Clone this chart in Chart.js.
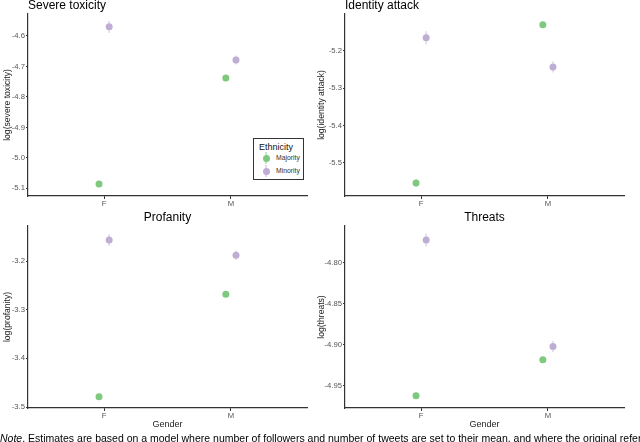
<!DOCTYPE html>
<html>
<head>
<meta charset="utf-8">
<script src="https://cdn.jsdelivr.net/npm/chart.js@4.4.0/dist/chart.umd.min.js"></script>
<style>
  body { margin: 0; background: #fff; }
  #wrap { position: relative; width: 640px; height: 442px; overflow: hidden; background: #fff; font-family: "Liberation Sans", Arial, sans-serif; }
  canvas { position: absolute; }
  .legend { position: absolute; left: 253px; top: 138px; width: 51px; height: 42px; border: 1px solid #333; box-sizing: border-box; background: #fff; }
  .legend .ttl { position: absolute; left: 5px; top: 3px; font-size: 9px; color: #111; }
  .legend .item { position: absolute; left: 6px; font-size: 6.8px; color: #333; height: 12px; }
  .legend .glyph { position: absolute; left: 0; top: 0; width: 12px; height: 12px; }
  .legend .glyph .bar { position: absolute; left: 5px; top: 0; width: 2px; height: 12px; }
  .legend .glyph .dot { position: absolute; left: 2.5px; top: 2.5px; width: 7px; height: 7px; border-radius: 50%; }
  .legend .lbl { position: absolute; left: 16px; top: 2px; white-space: nowrap; }
  .note { position: absolute; left: 0; top: 432px; font-size: 10.5px; line-height: 13px; color: #000; white-space: nowrap; }
</style>
</head>
<body>
<div id="wrap">
  <canvas id="sev" width="312" height="215" style="left:0;top:0"></canvas>
  <canvas id="ida" width="315" height="215" style="left:314px;top:0"></canvas>
  <canvas id="pro" width="312" height="220" style="left:0;top:212px"></canvas>
  <canvas id="thr" width="315" height="220" style="left:314px;top:212px"></canvas>
  <div class="legend">
    <div class="ttl">Ethnicity</div>
    <div class="item" style="top:13px">
      <div class="glyph"><div class="bar" style="background:rgba(127,201,127,0.45)"></div><div class="dot" style="background:#7FC97F"></div></div>
      <div class="lbl">Majority</div>
    </div>
    <div class="item" style="top:26px">
      <div class="glyph"><div class="bar" style="background:rgba(190,174,212,0.45)"></div><div class="dot" style="background:#BEAED4"></div></div>
      <div class="lbl">Minority</div>
    </div>
  </div>
  <div class="note"><i>Note</i>. Estimates are based on a model where number of followers and number of tweets are set to their mean, and where the original reference categories are used.</div>
</div>
<script>
// gender categories on the x axis
const genders = ['F', 'M'];
const ethnicities = ['Majority', 'Minority'];

// severe toxicity
const sevMajority = [-5.086, -4.738];
const sevMinority = [-4.570, -4.679];
const sevMajorityErr = [0.010, 0.008];
const sevMinorityErr = [0.020, 0.015];
const sevTicks = [-5.1, -5.0, -4.9, -4.8, -4.7, -4.6];

// identity attack
const idaMajority = [-5.554, -5.130];
const idaMinority = [-5.165, -5.243];
const idaMajorityErr = [0.010, 0.006];
const idaMinorityErr = [0.018, 0.015];
const idaTicks = [-5.5, -5.4, -5.3, -5.2];

// profanity
const proMajority = [-3.479, -3.268];
const proMinority = [-3.157, -3.188];
const proMajorityErr = [0.005, 0.005];
const proMinorityErr = [0.012, 0.010];
const proTicks = [-3.5, -3.4, -3.3, -3.2];

// threats
const thrMajority = [-4.962, -4.918];
const thrMinority = [-4.772, -4.902];
const thrMajorityErr = [0.004, 0.003];
const thrMinorityErr = [0.008, 0.007];
const thrTicks = [-4.95, -4.90, -4.85, -4.80];

const green = '#7FC97F';
const purple = '#BEAED4';
const dodge = 0.04;
const font = '"Liberation Sans", Arial, sans-serif';

// draws the vertical error bars under the points
const errorBars = {
  id: 'errorBars',
  beforeDatasetsDraw(chart) {
    const { ctx, scales: { x, y } } = chart;
    ctx.save();
    chart.data.datasets.forEach((ds) => {
      ctx.strokeStyle = ds.errColor;
      ctx.lineWidth = 1.6;
      ds.data.forEach((p) => {
        const px = x.getPixelForValue(p.x);
        ctx.beginPath();
        ctx.moveTo(px, y.getPixelForValue(p.y - p.se));
        ctx.lineTo(px, y.getPixelForValue(p.y + p.se));
        ctx.stroke();
      });
    });
    ctx.restore();
  }
};

function points(vals, errs, shift) {
  return vals.map((v, i) => ({ x: i + 1 + shift, y: v, se: errs[i] }));
}

function makeChart(id, cfg) {
  const top = cfg.top;
  new Chart(document.getElementById(id), {
    type: 'scatter',
    data: {
      datasets: [
        {
          label: ethnicities[0],
          data: points(cfg.majority, cfg.majorityErr, -dodge),
          backgroundColor: green,
          errColor: 'rgba(127,201,127,0.45)',
        },
        {
          label: ethnicities[1],
          data: points(cfg.minority, cfg.minorityErr, dodge),
          backgroundColor: purple,
          errColor: 'rgba(190,174,212,0.45)',
        },
      ],
    },
    options: {
      responsive: false,
      animation: false,
      layout: { padding: { left: 2, right: 5, top: 0, bottom: 0 } },
      elements: { point: { radius: 3.5, borderWidth: 0, hoverRadius: 3.5 } },
      plugins: {
        legend: { display: false },
        tooltip: { enabled: false },
        title: {
          display: true,
          text: cfg.title,
          align: top ? 'start' : 'center',
          fullSize: false,
          color: '#000',
          font: { family: font, size: 12, weight: 'normal', lineHeight: 1 },
          padding: { top: 0, bottom: 2 },
        },
      },
      scales: {
        x: {
          type: 'linear',
          min: 0.4,
          max: 2.6,
          afterFit: (s) => { s.height = top ? 19 : 24; },
          afterBuildTicks: (s) => { s.ticks = genders.map((g, i) => ({ value: i + 1 })); },
          ticks: {
            color: '#555',
            font: { family: font, size: 7.7 },
            padding: 0,
            callback: (v) => genders[v - 1],
          },
          grid: { display: true, drawOnChartArea: false, drawTicks: true, tickLength: 3, color: '#333' },
          border: { display: true, color: '#333', width: 1.2 },
          title: {
            display: !top,
            text: 'Gender',
            color: '#222',
            font: { family: font, size: 9 },
            padding: { top: 0, bottom: 2 },
          },
        },
        y: {
          min: cfg.min,
          max: cfg.max,
          afterFit: (s) => { s.width = cfg.yWidth; },
          afterBuildTicks: (s) => { s.ticks = cfg.ticks.map((v) => ({ value: v })); },
          ticks: {
            color: '#555',
            font: { family: font, size: 7.7 },
            padding: 1,
            callback: (v) => v.toFixed(cfg.decimals),
          },
          grid: { display: true, drawOnChartArea: false, drawTicks: true, tickLength: 2, color: '#333' },
          border: { display: true, color: '#333', width: 1.2 },
          title: {
            display: true,
            text: cfg.yTitle,
            color: '#222',
            font: { family: font, size: 8.6 },
            padding: { top: 0, bottom: 0 },
          },
        },
      },
    },
    plugins: [errorBars],
  });
}

makeChart('sev', {
  top: true, title: 'Severe toxicity', yTitle: 'log(severe toxicity)', yWidth: 26,
  majority: sevMajority, minority: sevMinority,
  majorityErr: sevMajorityErr, minorityErr: sevMinorityErr,
  ticks: sevTicks, decimals: 1, min: -5.125, max: -4.528,
});
makeChart('ida', {
  top: true, title: 'Identity attack', yTitle: 'log(identity attack)', yWidth: 29,
  majority: idaMajority, minority: idaMinority,
  majorityErr: idaMajorityErr, minorityErr: idaMinorityErr,
  ticks: idaTicks, decimals: 1, min: -5.589, max: -5.101,
});
makeChart('pro', {
  top: false, title: 'Profanity', yTitle: 'log(profanity)', yWidth: 26,
  majority: proMajority, minority: proMinority,
  majorityErr: proMajorityErr, minorityErr: proMinorityErr,
  ticks: proTicks, decimals: 1, min: -3.502, max: -3.128,
});
makeChart('thr', {
  top: false, title: 'Threats', yTitle: 'log(threats)', yWidth: 29,
  majority: thrMajority, minority: thrMinority,
  majorityErr: thrMajorityErr, minorityErr: thrMinorityErr,
  ticks: thrTicks, decimals: 2, min: -4.977, max: -4.755,
});
</script>
</body>
</html>
